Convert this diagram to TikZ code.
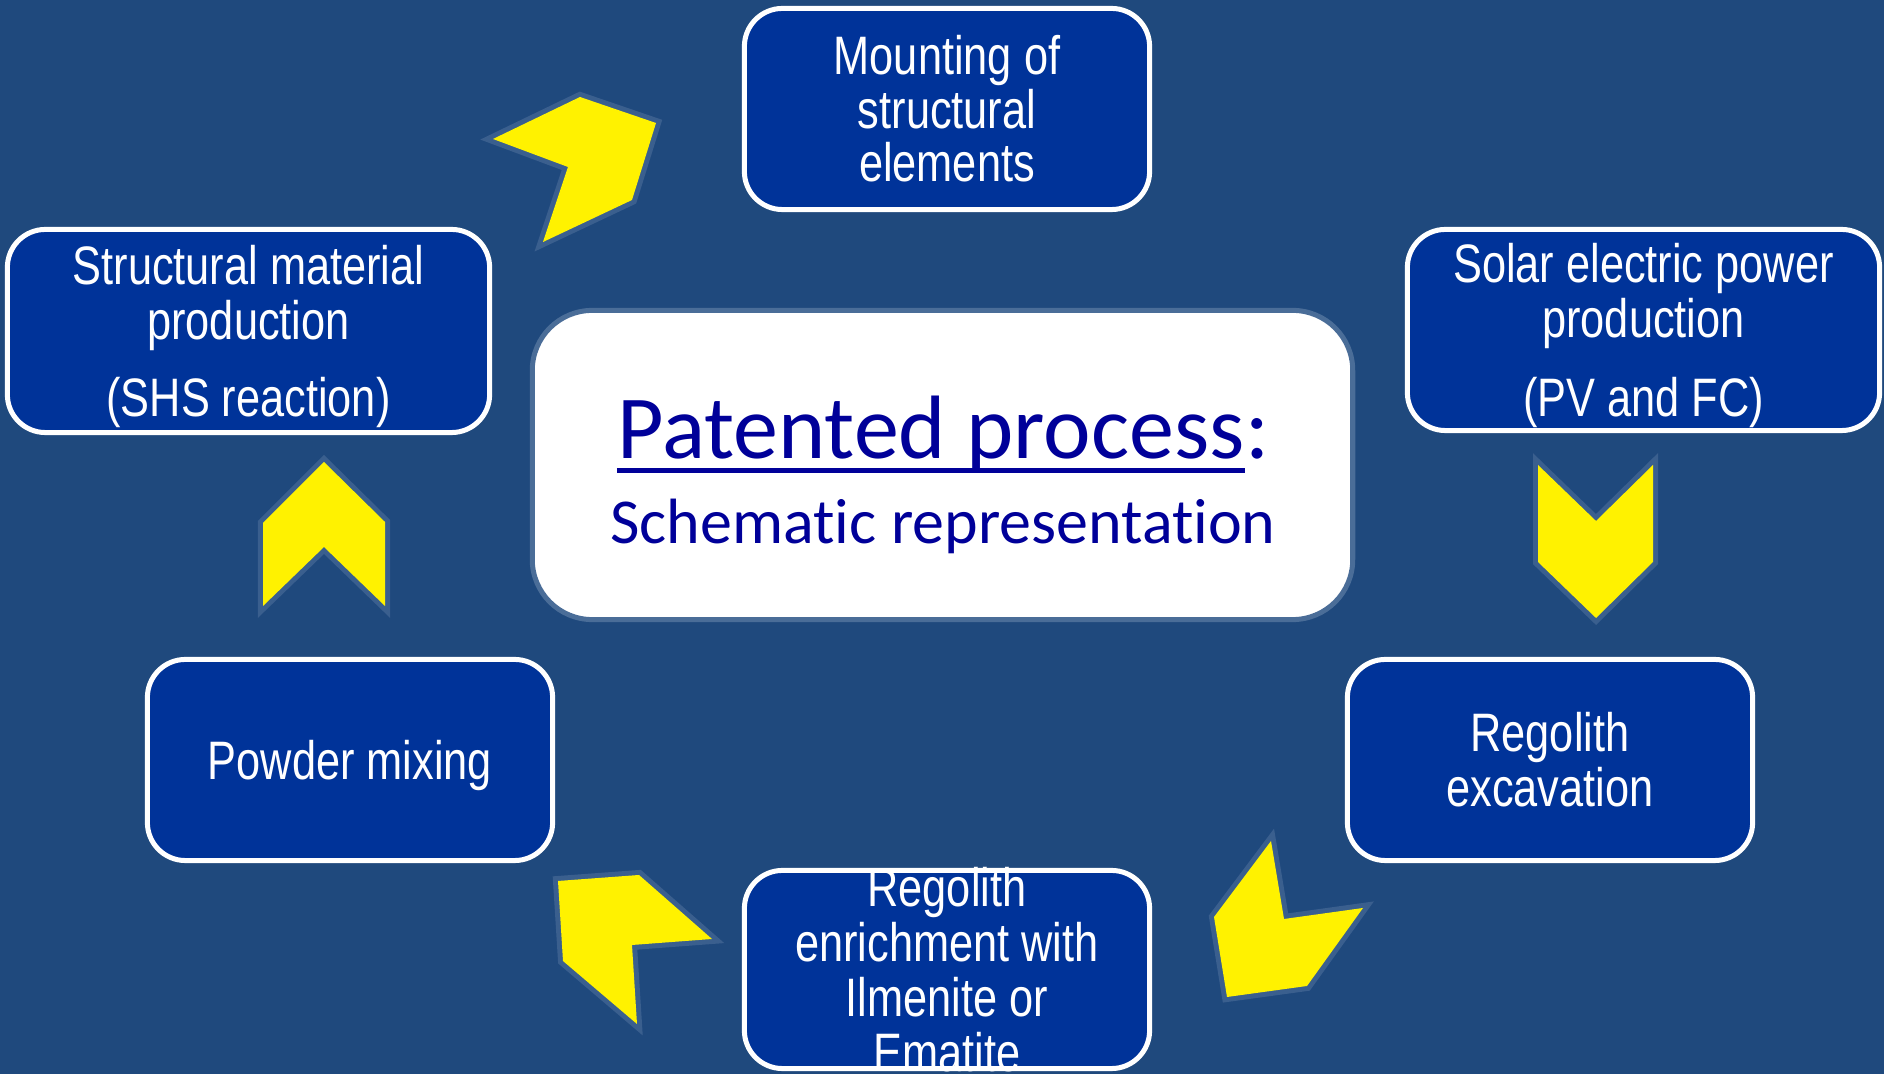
\documentclass[tikz,border=0pt]{standalone}
\usepackage{fontspec}
\setmainfont{Liberation Sans}
\newfontfamily\boxfont[FakeStretch=0.8]{Liberation Sans}
\newfontfamily\calfont[Ligatures=NoCommon]{Carlito}
\definecolor{bg}{HTML}{1F497D}
\definecolor{boxfill}{HTML}{003399}
\definecolor{chevline}{HTML}{3A5F8E}
\definecolor{navytext}{HTML}{000099}
\definecolor{centerline}{HTML}{4A6D98}
\begin{document}
\begin{tikzpicture}[x=0.01cm,y=-0.01cm,
  stepbox/.style={draw=white, line width=0.05cm, fill=boxfill, rounded corners=0.38cm,
    inner sep=0pt, text=white, font=\boxfont\fontsize{15.4}{15.6}\selectfont, align=center,
    minimum width=4.05cm, minimum height=2.01cm},
  boxtext/.style={inner sep=0pt, text=white, font=\boxfont\fontsize{15.4}{15.6}\selectfont, align=center},
  centerbox/.style={draw=centerline, line width=0.05cm, fill=white, rounded corners=0.6cm,
    minimum width=8.2cm, minimum height=3.09cm, inner sep=0pt},
  chev/.style={preaction={draw=chevline, line width=0.1cm, line join=miter}, fill=yellow}]
\fill[bg] (0,0) rectangle (1884,1074);
\useasboundingbox (0,0) rectangle (1884,1074);
\clip (0,0) rectangle (1884,1074);

% boxes
\node[stepbox, font=\boxfont\fontsize{15.4}{15.2}\selectfont] (mount) at (947,109) {Mounting of\\structural\\elements};
\node[stepbox, minimum width=4.82cm, minimum height=2.03cm, text depth=0pt] (shs) at (248.5,331)
  {Structural material\\production\\[0.22cm](SHS reaction)};
\node[stepbox, minimum width=4.72cm, minimum height=2.01cm, text depth=0pt] (solar) at (1643.5,330)
  {Solar electric power\\production\\[0.24cm](PV and FC)};
\node[stepbox, text depth=0pt] (powder) at (350,760) {Powder mixing};
\node[stepbox] (excav) at (1550,760) {Regolith\\excavation};
\node[stepbox, minimum height=1.98cm] (enrich) at (947,969.5) {};
\node[boxtext] (enrichtxt) at (enrich.center) {Regolith\\enrichment with\\Ilmenite or\\Ematite};

% center box
\node[centerbox] (center) at (942.5,465) {};
\node[anchor=base, inner sep=0pt, text=navytext, font=\calfont\fontsize{25.6}{30}\selectfont]
  (pp) at (931,459) {Patented process};
\node[anchor=base west, inner sep=0pt, text=navytext, font=\calfont\fontsize{25.6}{30}\selectfont]
  (colon) at (pp.base east) {:};
\draw[navytext, line width=0.05cm] ([yshift=-0.12cm]pp.base west) -- ([yshift=-0.12cm]pp.base east);
\node[anchor=base, inner sep=0pt, text=navytext, font=\calfont\fontsize{18.2}{22}\selectfont]
  (schem) at (943,544) {Schematic representation};

% chevrons
\path[chev] (493,139) -- (580,97) -- (656,123) -- (632,200) -- (543,242) -- (568,167) -- cycle;
\path[chev] (324,462) -- (385,522) -- (385,606) -- (324,547) -- (263,606) -- (263,523) -- cycle;
\path[chev] (1538,465) -- (1596,521) -- (1653,465) -- (1653,562) -- (1596,618) -- (1538,562) -- cycle;
\path[chev] (1271,841) -- (1284,919) -- (1363,908) -- (1307,986) -- (1227,997) -- (1214,917) -- cycle;
\path[chev] (558,881) -- (639,875) -- (712,939) -- (632,945) -- (637,1024) -- (563,961) -- cycle;
\end{tikzpicture}
\end{document}
